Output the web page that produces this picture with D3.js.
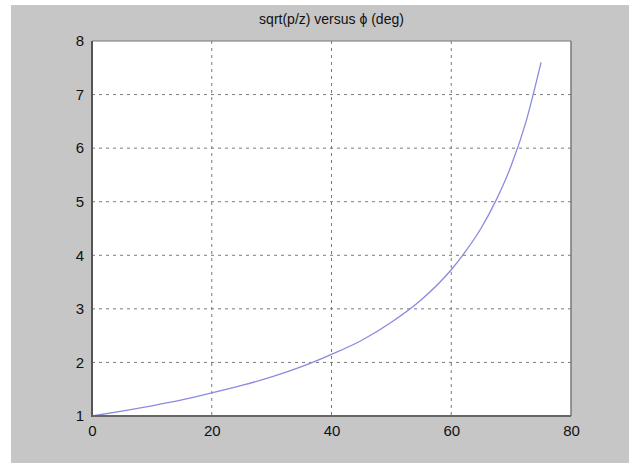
<!DOCTYPE html>
<html><head><meta charset="utf-8">
<script src="https://cdn.jsdelivr.net/npm/d3@7"></script>
<style>
html,body{margin:0;padding:0;background:#fff;}
svg{display:block;}
</style>
</head><body>
<svg id="c" width="629" height="463"></svg>
<script>
const phiDeg = [0, 5, 10, 15, 20, 25, 30, 35, 40, 45, 50, 55, 60, 62.5, 65, 67.5, 70, 72.5, 75];
const ratio  = [1.0, 1.09, 1.19, 1.30, 1.43, 1.57, 1.73, 1.92, 2.15, 2.41, 2.75, 3.17, 3.73, 4.09, 4.51, 5.03, 5.67, 6.50, 7.60];
const xTicks = [0, 20, 40, 60, 80];
const yTicks = [1, 2, 3, 4, 5, 6, 7, 8];
const title = "sqrt(p/z) versus \u03d5 (deg)";

const svg = d3.select("#c");
svg.append("rect").attr("x", 11).attr("y", 5).attr("width", 618).attr("height", 458).attr("fill", "#c6c6c6");

const L = 92, R = 571, T = 41, B = 416;
const x = d3.scaleLinear().domain([0, 80]).range([L, R]);
const y = d3.scaleLinear().domain([1, 8]).range([B, T]);

svg.append("rect").attr("x", L).attr("y", T).attr("width", R - L).attr("height", B - T).attr("fill", "#fff");

const g = svg.append("g");
// grid
g.selectAll("line.gx").data(xTicks.filter(d => d > 0 && d < 80)).join("line")
  .attr("x1", d => x(d)).attr("x2", d => x(d)).attr("y1", T).attr("y2", B)
  .attr("stroke", "#7a7a7a").attr("stroke-width", 1).attr("stroke-dasharray", "3,4");
g.selectAll("line.gy").data(yTicks.filter(d => d > 1 && d < 8)).join("line")
  .attr("x1", L).attr("x2", R).attr("y1", d => y(d)).attr("y2", d => y(d))
  .attr("stroke", "#7a7a7a").attr("stroke-width", 1).attr("stroke-dasharray", "3,4");

// curve
const pts = phiDeg.map((p, i) => [p, ratio[i]]);
g.append("path").datum(pts)
  .attr("d", d3.line().x(d => x(d[0])).y(d => y(d[1])).curve(d3.curveMonotoneX))
  .attr("fill", "none").attr("stroke", "#8a8ae0").attr("stroke-width", 1.3);

// box
svg.append("line").attr("x1", L).attr("x2", R).attr("y1", T).attr("y2", T).attr("stroke", "#777").attr("stroke-width", 1.2);
svg.append("line").attr("x1", R).attr("x2", R).attr("y1", T).attr("y2", B).attr("stroke", "#777").attr("stroke-width", 1.5);
svg.append("line").attr("x1", L).attr("x2", L).attr("y1", T).attr("y2", B + 1).attr("stroke", "#555").attr("stroke-width", 2);
svg.append("line").attr("x1", L).attr("x2", R).attr("y1", B).attr("y2", B).attr("stroke", "#666").attr("stroke-width", 2);

// axes labels
const xAxis = d3.axisBottom(x).tickValues(xTicks).tickSize(0).tickPadding(9).tickFormat(d3.format("d"));
const ax = svg.append("g").attr("transform", `translate(0,${B})`).call(xAxis);
ax.select(".domain").remove();
ax.selectAll("text").attr("font-family", "Liberation Sans, Arial, sans-serif").attr("font-size", 15).attr("fill", "#111");

const yAxis = d3.axisLeft(y).tickValues(yTicks).tickSize(0).tickPadding(8).tickFormat(d3.format("d"));
const ay = svg.append("g").attr("transform", `translate(${L},0)`).call(yAxis);
ay.select(".domain").remove();
ay.selectAll("text").attr("font-family", "Liberation Sans, Arial, sans-serif").attr("font-size", 15).attr("fill", "#111");

svg.append("text").attr("x", (L + R) / 2).attr("y", 24).attr("text-anchor", "middle")
  .attr("font-family", "Liberation Sans, Arial, sans-serif").attr("font-size", 14).attr("fill", "#111")
  .text(title);
</script>
</body></html>
